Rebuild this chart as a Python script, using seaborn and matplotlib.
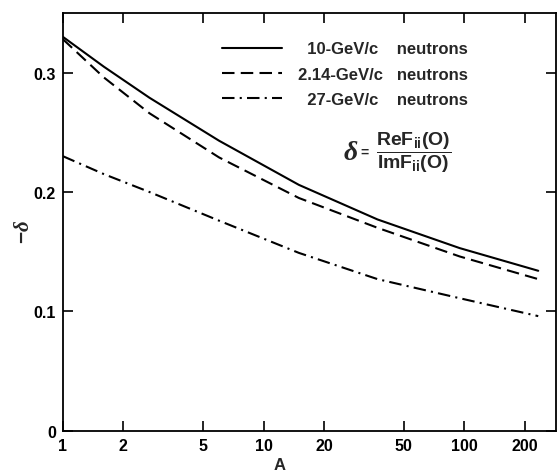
import matplotlib
matplotlib.use("Agg")
import matplotlib.pyplot as plt
import seaborn as sns
import pandas as pd

# Mass number A and -delta for each beam momentum
A_vals = [1, 1.6, 2.7, 6, 15, 37, 95, 234]
delta_10 = [0.330, 0.305, 0.279, 0.243, 0.206, 0.177, 0.153, 0.134]
delta_214 = [0.328, 0.296, 0.266, 0.229, 0.195, 0.170, 0.146, 0.127]
delta_27 = [0.230, 0.215, 0.200, 0.176, 0.149, 0.127, 0.111, 0.096]

series_labels = ["  10-GeV/c    neutrons", "2.14-GeV/c   neutrons", "  27-GeV/c    neutrons"]
x_ticks = [1, 2, 5, 10, 20, 50, 100, 200]
x_tick_labels = ["1", "2", "5", "10", "20", "50", "100", "200"]
y_ticks = [0, 0.1, 0.2, 0.3]
y_tick_labels = ["0", "0.1", "0.2", "0.3"]

df = pd.concat([
    pd.DataFrame({"A": A_vals, "delta": delta_10, "beam": series_labels[0]}),
    pd.DataFrame({"A": A_vals, "delta": delta_214, "beam": series_labels[1]}),
    pd.DataFrame({"A": A_vals, "delta": delta_27, "beam": series_labels[2]}),
])

sns.set_style("ticks")
plt.rcParams["font.family"] = ["Liberation Sans", "DejaVu Sans"]
plt.rcParams["font.weight"] = "bold"
plt.rcParams["mathtext.fontset"] = "custom"
plt.rcParams["mathtext.rm"] = "Liberation Sans:bold"
plt.rcParams["mathtext.it"] = "Liberation Serif:italic"
plt.rcParams["mathtext.bf"] = "Liberation Sans:bold"

fig = plt.figure(figsize=(5.57, 4.77), dpi=100)
ax = fig.add_axes([0.113, 0.095, 0.8847, 0.8756])

dash_styles = {
    series_labels[0]: "",
    series_labels[1]: (6, 3),
    series_labels[2]: (6, 2.5, 1, 2.5),
}
sns.lineplot(data=df, x="A", y="delta", style="beam", dashes=dash_styles,
             color="black", linewidth=1.5, ax=ax, legend=True,
             style_order=series_labels)

ax.set_xscale("log")
ax.set_xlim(1, 286)
ax.set_ylim(0, 0.35)
ax.set_xticks(x_ticks)
ax.set_xticklabels(x_tick_labels)
ax.minorticks_off()
ax.set_yticks(y_ticks)
ax.set_yticklabels(y_tick_labels)

ax.tick_params(direction="in", length=7, width=1.2, top=True, right=True,
               labelsize=11.5, pad=5, colors="black")
for lab in ax.get_xticklabels() + ax.get_yticklabels():
    lab.set_fontweight("bold")
for sp in ax.spines.values():
    sp.set_linewidth(1.3)
    sp.set_color("black")

ax.set_xlabel("A", fontsize=12, fontweight="bold")
ax.set_ylabel(r"$-\delta$", fontsize=15)
ax.xaxis.set_label_coords(0.44, -0.063)
ax.yaxis.set_label_coords(-0.06, 0.478)

leg = ax.legend(loc="upper left", bbox_to_anchor=(0.323, 0.932), frameon=False,
                handlelength=3.6, handletextpad=0.95, labelspacing=0.61,
                borderpad=0, borderaxespad=0, prop={"size": 12, "weight": "bold"})
for line in leg.get_lines():
    line.set_linewidth(1.5)

# Definition of delta
ax.text(0.5845, 0.668, r"$\delta$", transform=ax.transAxes,
        ha="center", va="center", fontsize=20)
ax.text(0.611, 0.668, "=", transform=ax.transAxes,
        ha="center", va="center", fontsize=10)
ax.text(0.7124, 0.668,
        r"$\dfrac{\mathrm{ReF_{ii}(O)}}{\mathrm{ImF_{ii}(O)}}$",
        transform=ax.transAxes, ha="center", va="center", fontsize=14)

fig.savefig("out.png", dpi=100)
